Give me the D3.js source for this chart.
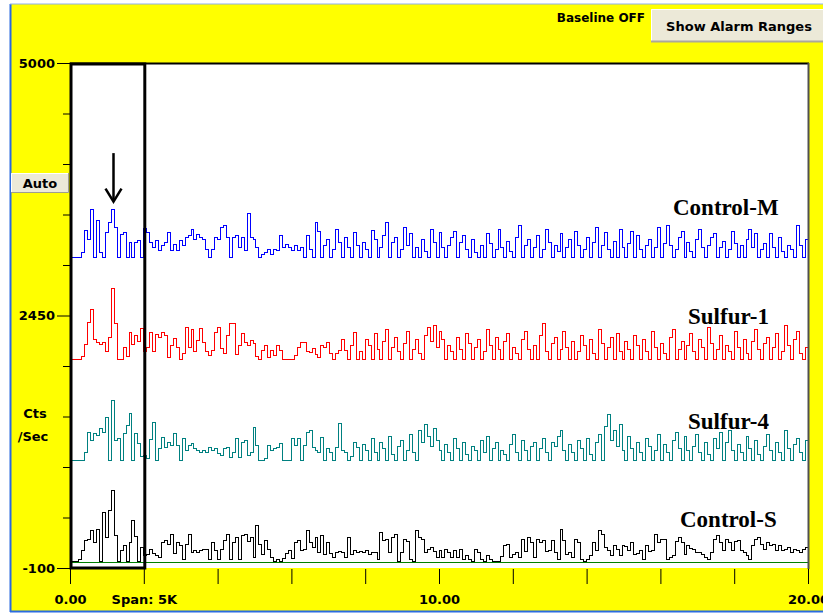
<!DOCTYPE html>
<html>
<head>
<meta charset="utf-8" />
<title>Spectra</title>
<script src="https://cdn.jsdelivr.net/npm/d3@7"></script>
<style>
  body { margin: 0; background: #fff; }
  svg text { font-family: "DejaVu Sans", sans-serif; font-weight: bold; fill: #000; }
  .lbl { font-family: "Liberation Serif", "Times New Roman", serif; font-size: 23px; }
  .trace { fill: none; stroke-width: 1px; shape-rendering: crispEdges; }
</style>
</head>
<body>
<svg width="823" height="614"></svg>
<script>
// channel width in keV, 250 channels over 0..20
var chanWidth = 0.08;

var seriesNames = ["Control-M", "Sulfur-1", "Sulfur-4", "Control-S"];
var seriesColors = ["#0000ff", "#ff0000", "#008080", "#000000"];
// vertical offset of each trace (Cts/Sec)
var offsets = [3040, 2010, 990, -30];

var controlM = [
  0,0,0,0,50,270,180,480,0,370, 50,0,250,350,480,300,0,230,250,0,
  150,0,150,170,0,290,250,150,100,170, 70,120,150,250,70,130,70,170,120,200,
  220,280,180,230,200,180,80,0,80,200, 180,300,320,200,0,200,220,100,200,70,
  440,200,180,100,0,30,50,80,30,80, 70,220,100,130,100,70,120,70,
  100,0,220,80,0,350,260,0,120,180, 0,80,280,150,0,200,100,0,250,120,
  0,150,80,0,270,180,0,100,220,350, 0,150,200,0,80,300,120,240,0,100,
  0,180,60,0,280,150,0,250,100,0, 120,200,260,0,150,220,80,0,180,50,
  0,120,0,240,140,0,80,280,100,0, 160,60,0,200,320,0,120,180,0,100,
  220,0,80,280,150,0,120,60,240,0, 100,180,0,260,120,0,80,200,0,150,
  300,0,120,250,80,0,160,0,280,100, 0,140,260,0,220,80,0,120,180,0,
  100,300,0,140,320,120,0,80,200,260, 0,150,60,0,180,280,100,0,120,200,
  240,0,100,160,0,80,260,140,0,120, 0,180,280,100,240,0,80,140,0,240,
  100,0,200,60,0,120,80,0,320,120, 0,180
];

var sulfur1 = [
  0,0,0,0,30,150,370,500,200,170, 150,170,80,220,710,360,0,0,120,30,
  270,150,240,180,310,80,120,270,80,250, 220,270,240,20,140,210,120,0,60,320,
  120,300,80,190,310,170,80,40,90,270, 320,110,60,240,360,360,50,140,260,170,
  140,190,160,30,0,90,140,20,90,40, 140,90,0,0,0,0,40,120,170,170,
  80,70,110,50,20,140,120,170,60,0, 60,90,200,90,0,140,270,0,
  80,0,200,140,0,260,100,0,180,300, 0,120,220,80,0,160,280,0,100,200,
  60,0,240,320,180,340,120,280,200,0, 140,80,0,220,100,0,260,160,0,120,
  200,0,80,300,140,0,220,100,0,180, 260,0,120,60,0,200,280,100,0,140,
  0,240,360,80,0,160,220,0,100,280, 120,0,180,0,80,240,140,0,200,60,
  0,300,160,0,120,220,0,260,80,0, 180,100,0,240,140,0,200,80,0,280,
  120,0,160,60,0,220,300,0,100,180, 0,140,260,80,0,200,120,0,320,160,
  0,100,240,0,140,80,0,280,120,0, 200,60,0,180,300,100,0,160,220,0,
  120,260,0,80,340,140,0,200,280,60, 0,120
];

var sulfur4 = [
  0,0,0,0,0,80,280,200,270,250, 320,280,430,0,600,200,220,0,270,350,
  470,0,270,170,40,50,20,210,380,0, 120,230,130,180,150,270,150,0,220,100,
  150,170,120,100,80,100,80,130,100,120, 70,50,120,130,30,80,220,30,180,200,
  50,80,330,150,0,0,20,150,100,120, 130,170,0,0,0,220,150,220,0,150,
  280,300,130,100,80,230,0,120,80,0, 130,370,100,80,0,40,180,130,
  0,160,100,0,220,80,0,180,120,0, 240,60,0,140,200,0,100,260,80,0,
  300,180,360,240,140,320,200,100,0,160, 80,0,220,120,0,180,60,0,140,100,
  0,200,80,240,0,120,180,0,100,60, 0,160,260,80,0,200,100,0,140,180,
  0,120,220,80,0,180,140,240,300,100, 0,160,80,0,200,120,0,220,60,0,
  180,260,0,340,460,200,300,140,360,100, 0,240,120,0,180,80,0,220,140,0,
  100,260,0,160,80,0,200,280,120,0, 240,100,0,140,260,80,0,180,60,0,
  220,120,280,0,180,300,100,0,160,80, 0,240,120,0,200,60,0,140,260,100,
  0,180,80,0,300,120,0,160,220,80, 0,200
];

var controlS = [
  0,0,0,20,110,210,220,310,190,320, 0,490,240,510,710,260,0,110,160,0,
  190,410,250,0,140,60,70,120,80,60, 40,190,210,170,270,80,190,160,20,170,
  270,90,110,90,110,120,120,20,190,110, 20,120,210,270,20,190,240,20,260,270,
  200,240,40,360,170,70,210,120,40,0, 20,0,30,80,110,30,190,210,110,120,
  310,190,140,240,90,260,70,190,80,40, 90,100,90,40,240,70,110,90,
  100,90,110,70,90,90,20,290,210,220, 90,240,270,0,90,220,200,20,0,310,
  240,220,90,120,140,100,40,110,40,120, 90,40,110,40,120,20,60,20,0,120,
  90,20,0,60,20,0,0,0,50,160, 170,40,70,90,40,220,100,240,190,40,
  220,190,210,100,110,210,90,20,320,210, 70,90,40,220,190,20,0,20,60,190,
  110,310,270,140,110,60,160,120,60,160, 150,110,190,70,80,110,20,160,100,110,
  270,190,220,220,20,40,60,200,240,190, 70,160,130,120,90,90,70,40,20,90,
  220,260,190,110,220,190,110,200,210,110, 90,60,20,160,220,240,170,120,190,160,
  170,110,160,110,120,140,90,120,110,90, 120,140
];

var seriesValues = [controlM, sulfur1, sulfur4, controlS];

// axis ticks
var yTicks = [-100, 410, 920, 1430, 1940, 2450, 2960, 3470, 3980, 4490, 5000];
var yLabeled = [5000, 2450, -100];
var xTicks = [0, 2, 4, 6, 8, 10, 12, 14, 16, 18, 20];
var xLabels = ["0.00", "Span: 5K", "", "", "", "10.00", "", "", "", "", "20.00"];

// region-of-interest box and arrow (keV / Cts)
var roi = [0, 2];
var arrowX = 1.17, arrowTop = 4090, arrowTip = 3600;

var svg = d3.select("svg");
var plotL = 70, plotR = 808, plotT = 63, plotB = 568;

var x = d3.scaleLinear().domain([0, 20]).range([plotL, plotR]);
var y = d3.scaleLinear().domain([-100, 5000]).range([plotB, plotT]);

// background panel
svg.append("rect").attr("x", 0).attr("y", 0).attr("width", 823).attr("height", 614).attr("fill", "#fff");
svg.append("rect").attr("x", 11).attr("y", 4).attr("width", 812).attr("height", 607).attr("fill", "#ffff00");
svg.append("line").attr("x1", 10.5).attr("x2", 10.5).attr("y1", 4).attr("y2", 612)
  .attr("stroke", "#2a6ae0").attr("stroke-width", 2);
svg.append("line").attr("x1", 10).attr("x2", 823).attr("y1", 611.5).attr("y2", 611.5)
  .attr("stroke", "#2a6ae0").attr("stroke-width", 2);
svg.append("line").attr("x1", 10).attr("x2", 823).attr("y1", 4).attr("y2", 4)
  .attr("stroke", "#8fb0e8").attr("stroke-width", 1);

// plot area
svg.append("rect").attr("x", plotL).attr("y", plotT).attr("width", plotR - plotL).attr("height", plotB - plotT)
  .attr("fill", "#fff");

svg.append("defs").append("clipPath").attr("id", "plotclip")
  .append("rect").attr("x", plotL).attr("y", plotT).attr("width", plotR - plotL).attr("height", plotB - plotT);

var plot = svg.append("g").attr("clip-path", "url(#plotclip)");

// green zero line under Control-S
plot.append("line")
  .attr("x1", plotL).attr("x2", plotR)
  .attr("y1", Math.round(y(offsets[3])) + 1.5).attr("y2", Math.round(y(offsets[3])) + 1.5)
  .attr("stroke", "#008000").attr("stroke-width", 1);

var line = d3.line()
  .x(function (d) { return x(d[0]); })
  .y(function (d) { return y(d[1]); })
  .curve(d3.curveStepAfter);

seriesValues.forEach(function (vals, s) {
  var pts = vals.map(function (v, i) { return [i * chanWidth, offsets[s] + v]; });
  pts.push([20, offsets[s] + vals[vals.length - 1]]);
  plot.append("path")
    .attr("class", "trace")
    .attr("d", line(pts))
    .attr("stroke", seriesColors[s]);
});

// frame top / right
svg.append("line").attr("x1", plotL).attr("x2", plotR + 1).attr("y1", plotT + 0.5).attr("y2", plotT + 0.5)
  .attr("stroke", "#000").attr("stroke-width", 2);
svg.append("line").attr("x1", plotR + 0.5).attr("x2", plotR + 0.5).attr("y1", plotT).attr("y2", plotB + 1)
  .attr("stroke", "#505050").attr("stroke-width", 2);

// ROI box
svg.append("rect")
  .attr("x", x(roi[0]) + 1).attr("y", plotT + 1)
  .attr("width", x(roi[1]) - x(roi[0])).attr("height", plotB - plotT - 1)
  .attr("fill", "none").attr("stroke", "#000").attr("stroke-width", 3);

// arrow
var ax = Math.round(x(arrowX)) + 0.5;
svg.append("line").attr("x1", ax).attr("x2", ax).attr("y1", y(arrowTop)).attr("y2", y(arrowTip) - 1)
  .attr("stroke", "#000").attr("stroke-width", 2.5);
svg.append("path")
  .attr("d", "M" + (ax - 8) + "," + (y(arrowTip) - 13) + "L" + ax + "," + y(arrowTip) + "L" + (ax + 8) + "," + (y(arrowTip) - 13))
  .attr("fill", "none").attr("stroke", "#000").attr("stroke-width", 2.5);

// y axis
var yAxis = svg.append("g").attr("transform", "translate(" + plotL + ",0)")
  .call(d3.axisLeft(y).tickValues(yTicks).tickSize(7).tickPadding(4)
    .tickFormat(function (d) { return yLabeled.indexOf(d) >= 0 ? String(d) : ""; }));
yAxis.select(".domain").remove();
yAxis.selectAll(".tick line").attr("stroke", "#000")
  .attr("x2", function (d) { return yLabeled.indexOf(d) >= 0 ? -13 : -7; });
yAxis.selectAll(".tick text")
  .attr("x", -15)
  .style("font-family", "DejaVu Sans, sans-serif").style("font-size", "13px").style("font-weight", "bold");

// x axis
var xAxis = svg.append("g").attr("transform", "translate(0," + (plotB + 1) + ")")
  .call(d3.axisBottom(x).tickValues(xTicks).tickSize(15)
    .tickFormat(function (d, i) { return xLabels[i]; }));
xAxis.select(".domain").remove();
xAxis.selectAll(".tick line").attr("stroke", "#000");
xAxis.selectAll(".tick text")
  .attr("y", 26)
  .style("font-family", "DejaVu Sans, sans-serif").style("font-size", "13px").style("font-weight", "bold");

// y unit label
svg.append("text").attr("x", 35).attr("y", 418).attr("text-anchor", "middle").style("font-size", "13px").text("Cts");
svg.append("text").attr("x", 33).attr("y", 441).attr("text-anchor", "middle").style("font-size", "13px").text("/Sec");

// Auto button
var auto = svg.append("g");
auto.append("rect").attr("x", 11).attr("y", 173).attr("width", 58).attr("height", 20).attr("fill", "#ece9d8");
auto.append("path").attr("d", "M11.5,193V173.5H69").attr("fill", "none").attr("stroke", "#fff");
auto.append("path").attr("d", "M11,192.5H68.5V173").attr("fill", "none").attr("stroke", "#9d9d92");
auto.append("text").attr("x", 40).attr("y", 188).attr("text-anchor", "middle").style("font-size", "13px").text("Auto");

// top status + button
svg.append("text").attr("x", 645).attr("y", 22).attr("text-anchor", "end").style("font-size", "12px").text("Baseline OFF");
var btn = svg.append("g");
btn.append("rect").attr("x", 651).attr("y", 9).attr("width", 172).attr("height", 33).attr("fill", "#ece9d8");
btn.append("path").attr("d", "M651.5,42V9.5H823").attr("fill", "none").attr("stroke", "#fff");
btn.append("path").attr("d", "M651,41.5H823").attr("fill", "none").attr("stroke", "#aca899").attr("stroke-width", 2);
btn.append("text").attr("x", 739).attr("y", 31).attr("text-anchor", "middle").style("font-size", "13px").text("Show Alarm Ranges");

// series labels
var labelX = [673, 688, 688, 680];
var labelY = [215, 324, 429, 527];
seriesNames.forEach(function (n, i) {
  svg.append("text").attr("class", "lbl").attr("x", labelX[i]).attr("y", labelY[i]).text(n);
});
</script>
</body>
</html>
